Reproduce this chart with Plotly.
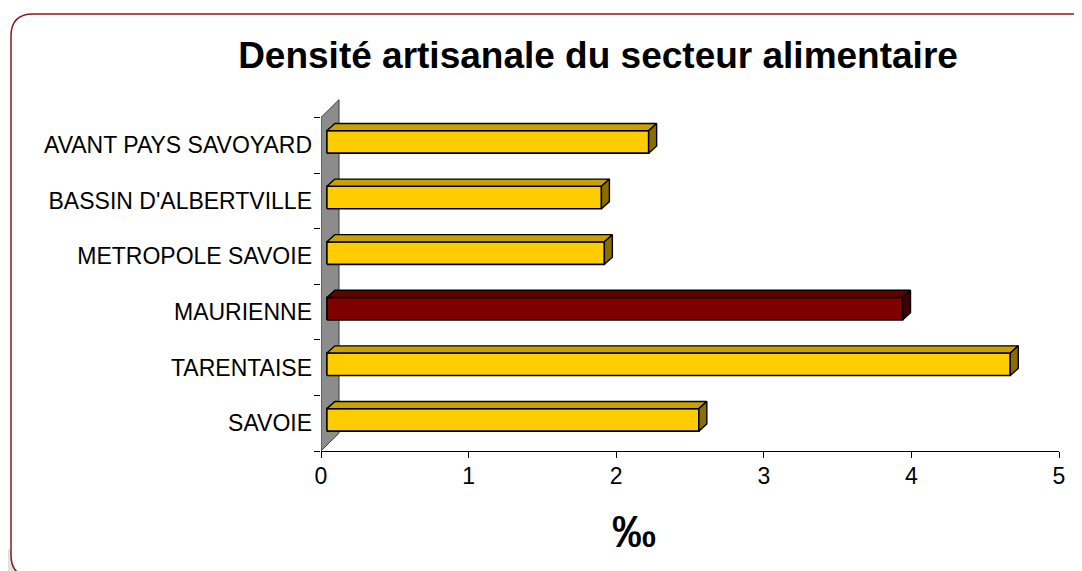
import plotly.graph_objects as go

# data (top to bottom as in the chart)
categories = ["AVANT PAYS SAVOYARD", "BASSIN D'ALBERTVILLE", "METROPOLE SAVOIE",
              "MAURIENNE", "TARENTAISE", "SAVOIE"]
values = [2.18, 1.86, 1.88, 3.90, 4.63, 2.52]
highlight = "MAURIENNE"
x_ticks = [0, 1, 2, 3, 4, 5]

# the page has an 8px body margin, so the figure is drawn 8px in
OFF = 8
W, H = 1082 - OFF, 571 - OFF
L, R, T, B = 321 - OFF, 23, 98 - OFF, 128 - OFF
FONT = "Arial, Liberation Sans, sans-serif"

# pseudo-3d geometry (data units)
x0 = 0.04          # front face starts a bit in front of the wall
dx, dy = 0.054, 0.129
bar_w = 0.405
shift = 0.06
wall_dx, wall_dy = 0.122, 0.32

colors = {
    "normal": ("#FFCC00", "#C9A200", "#8A6E00"),
    "hi": ("#800000", "#650000", "#420000"),
}

cats = categories[::-1]
vals = values[::-1]
pos = list(range(len(cats)))


def face(xs, ys, fill, lw=1.4):
    return go.Scatter(x=xs, y=ys, fill="toself", fillcolor=fill, mode="lines",
                      line=dict(color="black", width=lw), hoverinfo="skip",
                      showlegend=False)


fig = go.Figure()

# wall
fig.add_trace(go.Scatter(
    x=[0, wall_dx, wall_dx, 0, 0],
    y=[-0.5, -0.5 + wall_dy, 5.5 + wall_dy, 5.5, -0.5],
    fill="toself", fillcolor="#8C8C8C", mode="lines",
    line=dict(color="#3A3A3A", width=1), hoverinfo="skip", showlegend=False,
))

# bars drawn as faces so they sit above the wall
for p, c, v in zip(pos, cats, vals):
    front, top, side = colors["hi"] if c == highlight else colors["normal"]
    yb = p + shift - bar_w / 2
    yt = p + shift + bar_w / 2
    xe = x0 + v
    fig.add_trace(face([x0, xe, xe, x0, x0], [yb, yb, yt, yt, yb], front, 1.6))
    fig.add_trace(face([x0, x0 + dx, xe + dx, xe, x0],
                       [yt, yt + dy, yt + dy, yt, yt], top))
    fig.add_trace(face([xe, xe, xe + dx, xe + dx, xe],
                       [yb, yt, yt + dy, yb + dy, yb], side))

# boundary tick marks on an overlaid axis
fig.add_trace(go.Scatter(x=[None], y=[None], yaxis="y2", showlegend=False))


# page pixel -> paper coords
def px(v):
    return (v - OFF - L) / (W - L - R)


def py(v):
    return (H - B - (v - OFF)) / (H - T - B)


r = 22
fl, ft, fr, fb = 11, 14, 1095, 577
frame = (f"M {px(fl)},{py(ft + r)} Q {px(fl)},{py(ft)} {px(fl + r)},{py(ft)} "
         f"L {px(fr)},{py(ft)} L {px(fr)},{py(fb)} L {px(fl + r)},{py(fb)} "
         f"Q {px(fl)},{py(fb)} {px(fl)},{py(fb - r)} Z")

fig.update_layout(
    width=W, height=H,
    margin=dict(l=L, r=R, t=T, b=B),
    paper_bgcolor="white", plot_bgcolor="rgba(0,0,0,0)",
    title=dict(text="<b>Densité artisanale du secteur alimentaire</b>",
               x=(598 - OFF) / W, xanchor="center", y=1 - (55 - OFF) / H, yanchor="middle",
               font=dict(family=FONT, size=37, color="black")),
    xaxis=dict(range=[0, 5], tickvals=x_ticks, showgrid=False, zeroline=False,
               showline=True, linecolor="black", linewidth=1,
               ticks="outside", ticklen=6, tickcolor="black",
               ticklabelstandoff=-2,
               tickfont=dict(family=FONT, size=23, color="black")),
    yaxis=dict(range=[-0.5, 5.85], tickvals=pos, ticktext=cats,
               showgrid=False, zeroline=False, showline=False, ticks="",
               ticklabelstandoff=8,
               tickfont=dict(family=FONT, size=23, color="black")),
    yaxis2=dict(range=[-0.5, 5.85], overlaying="y", side="left", anchor="x",
                tickvals=[i - 0.5 for i in range(len(cats) + 1)],
                showticklabels=False, ticks="outside", ticklen=6,
                tickcolor="black", showgrid=False, zeroline=False, showline=False),
    annotations=[dict(text="<b>‰</b>", x=px(634), y=py(531), xref="paper", yref="paper",
                      showarrow=False, xanchor="center", yanchor="middle",
                      font=dict(family=FONT, size=44, color="black"))],
    shapes=[
        dict(type="rect", xref="paper", yref="paper", x0=px(0), x1=px(16),
             y0=py(549), y1=py(575), fillcolor="#E2E2E2", line=dict(width=0), layer="below"),
        dict(type="path", path=frame, xref="paper", yref="paper",
             fillcolor="white", line=dict(color="#8B1A1A", width=1.5), layer="below"),
    ],
)

fig.write_html("out.html")
